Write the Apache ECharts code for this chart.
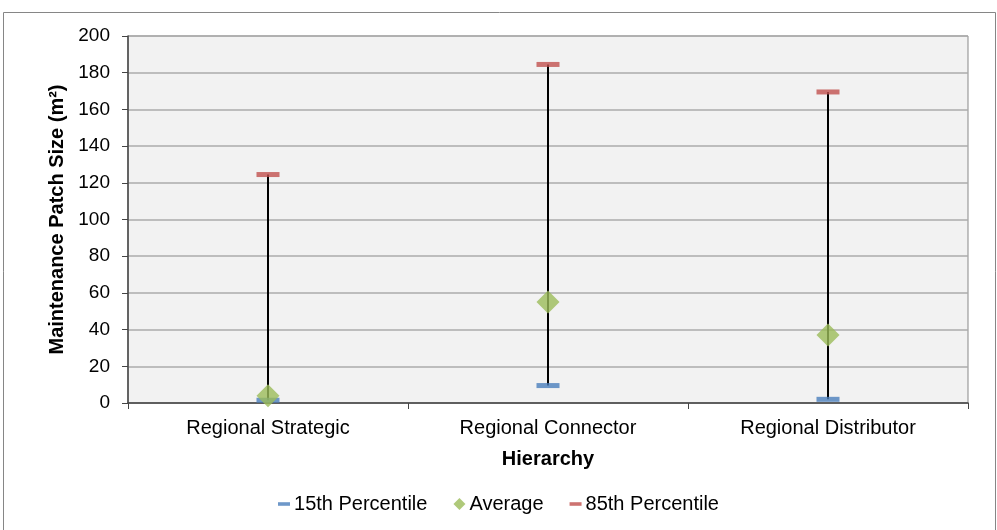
<!DOCTYPE html>
<html>
<head>
<meta charset="utf-8">
<script src="https://cdn.jsdelivr.net/npm/echarts@6/dist/echarts.min.js"></script>
<style>html,body{margin:0;padding:0;background:#fff}#c{width:997px;height:530px}</style>
</head>
<body>
<div id="c"></div>
<script>
var categories = ['Regional Strategic', 'Regional Connector', 'Regional Distributor'];
var p15 = [1.5, 9.5, 2];
var avg = [4, 55, 37];
var p85 = [124.5, 184.5, 169.5];
var yTicks = [0, 20, 40, 60, 80, 100, 120, 140, 160, 180, 200];

var chart = echarts.init(document.getElementById('c'));
var font = 'Liberation Sans, Arial, sans-serif';
var rangeData = categories.map(function (c, i) { return [i, p15[i], p85[i]]; });

chart.setOption({
  animation: false,
  textStyle: { fontFamily: font },
  graphic: [{
    type: 'rect', shape: { x: 3.5, y: 12.5, width: 992, height: 530 },
    style: { fill: 'none', stroke: '#868686', lineWidth: 1 }, silent: true
  }],
  grid: {
    left: 128, right: 29, top: 36, bottom: 127,
    show: true, backgroundColor: '#f2f2f2', borderColor: '#898989', borderWidth: 1
  },
  legend: {
    top: 489, left: 'center', itemGap: 26, itemWidth: 12, itemHeight: 12,
    textStyle: { fontSize: 20, color: '#000', fontFamily: font, padding: [0, 0, 0, -1] },
    data: [
      { name: '15th Percentile', icon: 'path://M0,0h10v3h-10z' },
      { name: 'Average', icon: 'diamond' },
      { name: '85th Percentile', icon: 'path://M0,0h10v3h-10z' }
    ]
  },
  xAxis: {
    type: 'category', data: categories, boundaryGap: true,
    name: 'Hierarchy', nameLocation: 'middle', nameGap: 46,
    nameTextStyle: { fontSize: 20, fontWeight: 'bold', color: '#000', fontFamily: font },
    axisLine: { lineStyle: { color: '#444', width: 1.5 } },
    axisTick: { show: true, length: 6, alignWithLabel: false, lineStyle: { color: '#444' } },
    axisLabel: { fontSize: 20, color: '#000', margin: 15, fontFamily: font },
    splitLine: { show: false }
  },
  yAxis: {
    type: 'value', min: 0, max: 200, interval: 20,
    name: 'Maintenance Patch Size (m²)', nameLocation: 'middle', nameGap: 61,
    nameTextStyle: { fontSize: 20, fontWeight: 'bold', color: '#000', fontFamily: font },
    axisLine: { show: true, lineStyle: { color: '#444', width: 1.5 } },
    axisTick: { show: true, length: 6, lineStyle: { color: '#444' } },
    axisLabel: { fontSize: 19, color: '#000', margin: 18, fontFamily: font,
      formatter: function (v) { return yTicks.indexOf(v) >= 0 ? String(v) : ''; } },
    splitLine: { lineStyle: { color: '#ababab', width: 1.5 } }
  },
  series: [
    {
      type: 'custom', name: 'range', data: rangeData, z: 2, silent: true,
      renderItem: function (params, api) {
        var a = api.coord([api.value(0), api.value(1)]);
        var b = api.coord([api.value(0), api.value(2)]);
        return { type: 'line', shape: { x1: a[0], y1: a[1], x2: b[0], y2: b[1] },
          style: { stroke: '#000', lineWidth: 2 } };
      }
    },
    { type: 'scatter', name: '15th Percentile', data: p15, symbol: 'rect', symbolSize: [23, 5],
      itemStyle: { color: '#4a7ebb' }, z: 3 },
    { type: 'scatter', name: '85th Percentile', data: p85, symbol: 'rect', symbolSize: [23, 5],
      itemStyle: { color: '#c0504d' }, z: 3 },
    { type: 'scatter', name: 'Average', data: avg, symbol: 'diamond', symbolSize: [23, 23],
      itemStyle: { color: '#9bbb59' }, z: 4 }
  ]
});
</script>
</body>
</html>
